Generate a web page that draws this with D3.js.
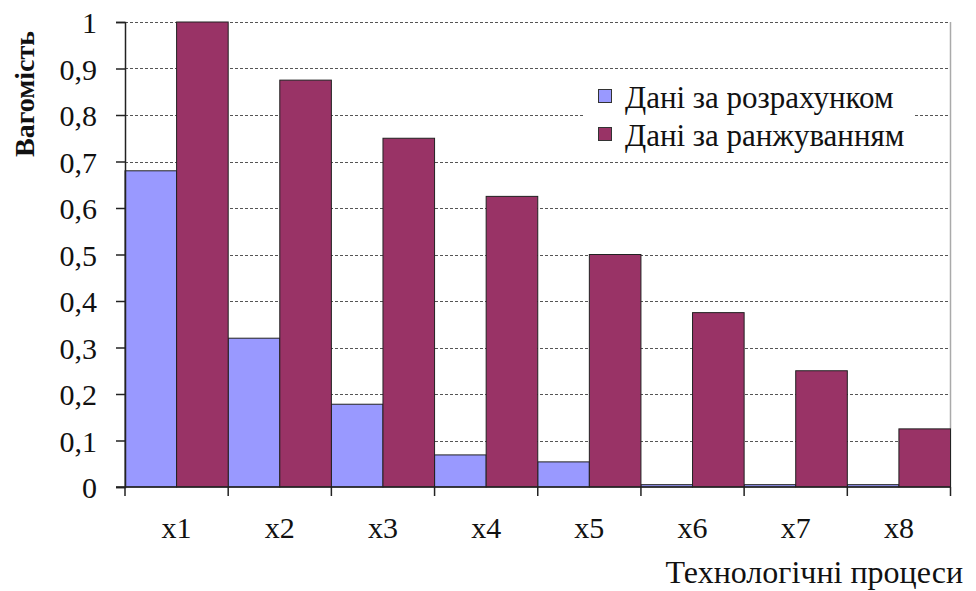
<!DOCTYPE html>
<html>
<head>
<meta charset="utf-8">
<script src="https://cdn.jsdelivr.net/npm/d3@7/dist/d3.min.js"></script>
<style>
  html, body { margin: 0; padding: 0; background: #fff; }
  svg { display: block; }
  svg text { font-family: "Liberation Serif", "DejaVu Serif", serif; }
</style>
</head>
<body>
<svg id="chart" width="976" height="591"></svg>
<script>
// Categories (technological processes)
const categories = ["x1", "x2", "x3", "x4", "x5", "x6", "x7", "x8"];
// Weight computed by calculation
const calcValues = [0.68, 0.32, 0.178, 0.069, 0.054, 0.005, 0.005, 0.005];
// Weight obtained by ranking
const rankValues = [1, 0.875, 0.75, 0.625, 0.5, 0.375, 0.25, 0.125];
const seriesNames = ["Дані за розрахунком", "Дані за ранжуванням"];
const seriesColors = ["#9999FF", "#993366"];
const yTicks = [0, 0.1, 0.2, 0.3, 0.4, 0.5, 0.6, 0.7, 0.8, 0.9, 1];
const yTitle = "Вагомість";
const xTitle = "Технологічні процеси";

const svg = d3.select("#chart");
const plotLeft = 125, plotRight = 950.5, plotTop = 22, plotBottom = 487;

const x = d3.scaleBand().domain(categories).range([plotLeft, plotRight]).paddingInner(0).paddingOuter(0);
const sub = d3.scaleBand().domain([0, 1]).range([0, x.bandwidth()]).padding(0);
const y = d3.scaleLinear().domain([0, 1]).range([plotBottom, plotTop]);

const fmt = v => (v === 0 || v === 1) ? String(v) : d3.format(".1f")(v).replace(".", ",");

// Dashed gridlines
svg.append("g").selectAll("line")
  .data(yTicks.filter(v => v > 0))
  .join("line")
  .attr("x1", plotLeft).attr("x2", plotRight)
  .attr("y1", d => Math.round(y(d)) + 0.5).attr("y2", d => Math.round(y(d)) + 0.5)
  .attr("stroke", "#555").attr("stroke-width", 1.2).attr("stroke-dasharray", "3,2");

// Right border of plot area
svg.append("line")
  .attr("x1", plotRight).attr("x2", plotRight).attr("y1", plotTop).attr("y2", plotBottom)
  .attr("stroke", "#aaa").attr("stroke-width", 1.5);

// Bars
const series = [calcValues, rankValues];
series.forEach((vals, si) => {
  svg.append("g").selectAll("rect")
    .data(categories.map((c, i) => ({ c, v: vals[i] })))
    .join("rect")
    .attr("x", d => x(d.c) + sub(si))
    .attr("y", d => y(d.v))
    .attr("width", sub.bandwidth())
    .attr("height", d => y(0) - y(d.v))
    .attr("fill", seriesColors[si])
    .attr("stroke", "#222")
    .attr("stroke-width", 1);
});

// Y axis
const yAxis = svg.append("g")
  .attr("transform", `translate(${plotLeft},0)`)
  .call(d3.axisLeft(y).tickValues(yTicks).tickFormat(fmt).tickSize(9).tickPadding(19));
yAxis.attr("font-size", 30);
yAxis.select(".domain").attr("stroke", "#222").attr("stroke-width", 1.5);
yAxis.selectAll(".tick line").attr("stroke", "#222").attr("stroke-width", 1.5);
yAxis.selectAll(".tick text")
  .attr("fill", "#111")
  .attr("dy", "0.35em");

// X axis with ticks at category boundaries
const xAxisG = svg.append("g").attr("transform", `translate(0,${plotBottom})`);
xAxisG.append("line")
  .attr("x1", plotLeft - 9).attr("x2", plotRight).attr("y1", 0).attr("y2", 0)
  .attr("stroke", "#222").attr("stroke-width", 1.5);
const boundaries = categories.map(c => x(c)).concat([x(categories[categories.length - 1]) + x.bandwidth()]);
xAxisG.selectAll("line.tk")
  .data(boundaries)
  .join("line").attr("class", "tk")
  .attr("x1", d => d).attr("x2", d => d).attr("y1", 0).attr("y2", 9)
  .attr("stroke", "#222").attr("stroke-width", 1.5);
xAxisG.selectAll("text")
  .data(categories)
  .join("text")
  .attr("x", d => x(d) + x.bandwidth() / 2)
  .attr("y", 51)
  .attr("text-anchor", "middle")
  .attr("font-size", 30).attr("fill", "#111")
  .text(d => d);

// Axis titles
svg.append("text")
  .attr("transform", "translate(34,94) rotate(-90)")
  .attr("text-anchor", "middle")
  .attr("font-size", 28).attr("font-weight", "bold").attr("fill", "#111")
  .text(yTitle);
svg.append("text")
  .attr("x", 963).attr("y", 583)
  .attr("text-anchor", "end")
  .attr("font-size", 32).attr("fill", "#111")
  .text(xTitle);

// Legend
const legend = svg.append("g");
legend.append("rect")
  .attr("x", 584).attr("y", 80).attr("width", 331).attr("height", 76)
  .attr("fill", "#fff");
seriesNames.forEach((name, i) => {
  const cy = 96 + i * 38;
  legend.append("rect")
    .attr("x", 598.5).attr("y", cy - 6.5).attr("width", 13).attr("height", 13)
    .attr("fill", seriesColors[i]).attr("stroke", "#333").attr("stroke-width", 1);
  legend.append("text")
    .attr("x", 625).attr("y", cy + 12)
    .attr("font-size", 31).attr("fill", "#111")
    .text(name);
});
</script>
</body>
</html>
